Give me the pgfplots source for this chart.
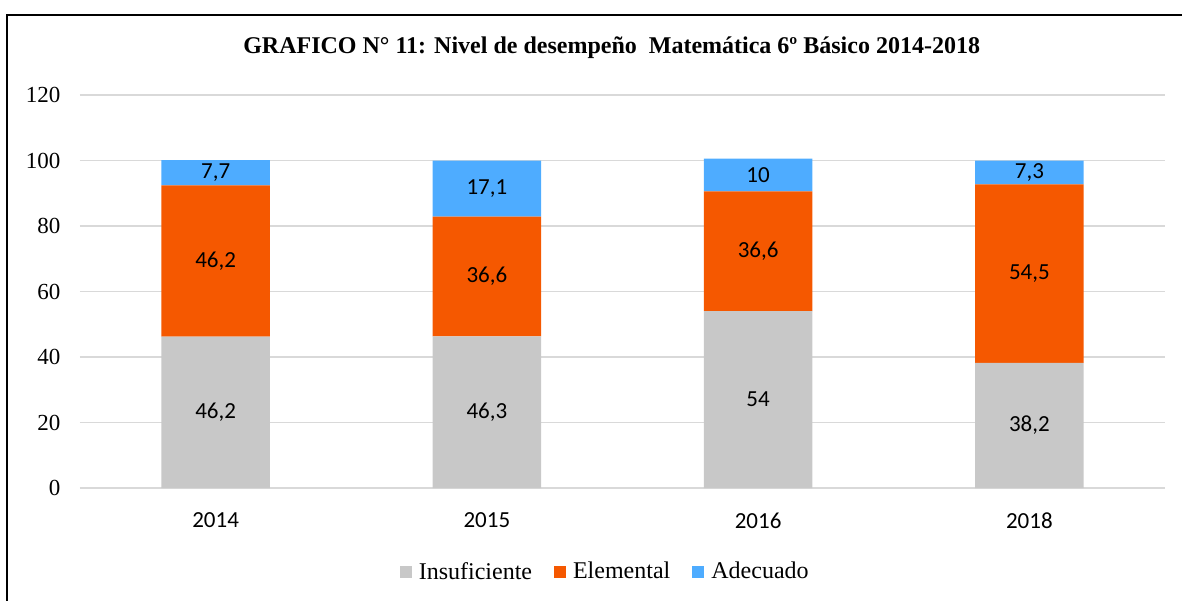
\documentclass[border=0pt]{standalone}
\usepackage{pgfplots}
\pgfplotsset{compat=1.18}
\usepackage{pgfplotstable}
\usepackage{fontspec}
\setmainfont{Liberation Serif}
\newfontfamily\calfont{Carlito}

\definecolor{cIns}{RGB}{200,200,200}
\definecolor{cEle}{RGB}{245,88,0}
\definecolor{cAde}{RGB}{78,172,255}
\definecolor{cGrid}{RGB}{217,217,217}

\pgfplotstableread{
x ins ele ade
0 46.2 46.2 7.7
1 46.3 36.6 17.1
2 54 36.6 10
3 38.2 54.5 7.3
}\data

\begin{document}
\begin{tikzpicture}
\path[use as bounding box] (-40pt,-56pt) rectangle (551pt,244pt);
\begin{axis}[
  at={(0pt,0pt)}, anchor=south west,
  scale only axis, width=542.5pt, height=196.5pt,
  xmin=-0.5, xmax=3.5, ymin=0, ymax=120,
  ybar stacked, bar width=0.4,
  xtick={0,1,2,3}, xticklabels={2014,2015,2016,2018},
  ytick={0,20,...,120},
  ymajorgrids, grid style={color=cGrid, line width=0.8pt},
  axis line style={draw=none},
  major tick length=0pt,
  /pgf/number format/assume math mode=true,
  /pgf/number format/use comma,
  xticklabel style={font=\calfont\fontsize{11.5}{13}\selectfont, yshift=-8.8pt},
  yticklabel style={font=\fontsize{11.5}{13}\selectfont, xshift=-6.3pt},
  title={GRAFICO N° 11: Nivel de desempeño\ \ Matemática 6º Básico 2014-2018},
  title style={font=\bfseries\fontsize{12}{14}\selectfont, at={(axis description cs:0.49,1.091)}, anchor=center},
  nodes near coords={\pgfmathprintnumber{\pgfplotspointmeta}},
  every node near coord/.append style={font=\calfont\fontsize{11.5}{13}\selectfont, anchor=center, text=black},
  legend style={at={(axis description cs:0.485,-0.214)}, anchor=center, draw=none,
    legend columns=-1, font=\fontsize{12}{14}\selectfont,
    /tikz/every even column/.append style={column sep=9pt},
    /tikz/every odd column/.append style={column sep=1.5pt}},
  legend image code/.code={\fill[#1] (0pt,-3pt) rectangle (6pt,3pt);},
]
\addplot[fill=cIns, draw=none, point meta=explicit] table[x=x, y=ins, meta=ins]{\data};
\addplot[fill=cEle, draw=none, point meta=explicit] table[x=x, y=ele, meta=ele]{\data};
\addplot[fill=cAde, draw=none, point meta=explicit] table[x=x, y=ade, meta=ade]{\data};
\legend{Insuficiente, Elemental, Adecuado}
\end{axis}
\draw[line width=1pt] (-36.5pt,-80pt) -- (-36.5pt,236.5pt) -- (600pt,236.5pt);
\end{tikzpicture}
\end{document}
